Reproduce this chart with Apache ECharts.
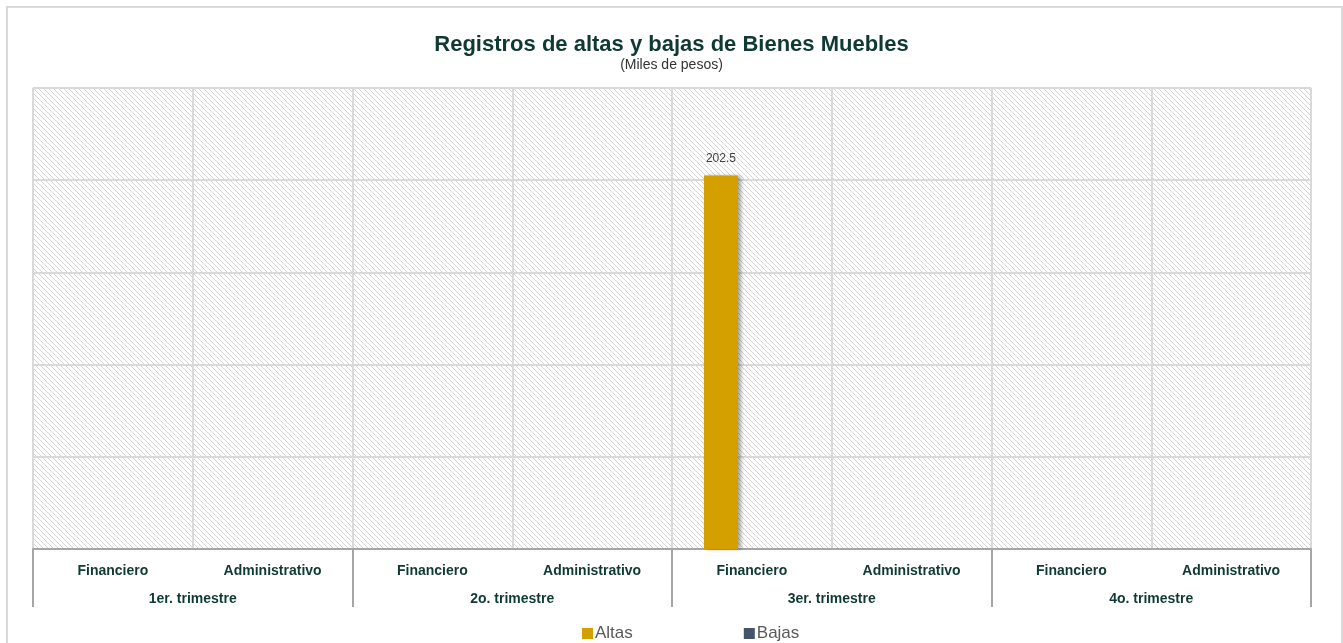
<!DOCTYPE html>
<html>
<head>
<meta charset="utf-8">
<script src="https://cdn.jsdelivr.net/npm/echarts@6/dist/echarts.min.js"></script>
<style>
  html, body { margin: 0; padding: 0; background: #fff; }
  #chart { width: 1343px; height: 643px; }
</style>
</head>
<body>
<div id="chart"></div>
<script>
var categories = ['Financiero', 'Administrativo', 'Financiero', 'Administrativo',
                  'Financiero', 'Administrativo', 'Financiero', 'Administrativo'];
var groups = ['1er. trimestre', '2o. trimestre', '3er. trimestre', '4o. trimestre'];
var altas = [0, 0, 0, 0, 202.5, 0, 0, 0];
var bajas = [0, 0, 0, 0, 0, 0, 0, 0];

var TEXT_DARK = '#0f3a33';
var GRID_LINE = '#d9d9d9';

// diagonal hatch for the plot area
function hatch() {
    var n = 5;
    var c = document.createElement('canvas');
    c.width = n;
    c.height = n;
    var ctx = c.getContext('2d');
    ctx.fillStyle = '#ffffff';
    ctx.fillRect(0, 0, n, n);
    ctx.fillStyle = '#d4d4d4';
    for (var i = 0; i < n; i++) {
        ctx.fillRect(i, i, 1, 1);
    }
    return c;
}

var chart = echarts.init(document.getElementById('chart'));
var option = {
    animation: false,
    backgroundColor: '#fff',
    title: {
        text: 'Registros de altas y bajas de Bienes Muebles',
        subtext: '(Miles de pesos)',
        left: 'center',
        top: 29,
        itemGap: 2,
        textStyle: { fontFamily: 'Liberation Sans', fontSize: 22, fontWeight: 'bold', color: TEXT_DARK },
        subtextStyle: { fontFamily: 'Liberation Sans', fontSize: 14, color: '#333' }
    },
    graphic: [{
        type: 'rect',
        shape: { x: 7, y: 7, width: 1335, height: 660 },
        style: { fill: null, stroke: '#d9d9d9', lineWidth: 2 },
        silent: true
    }],
    legend: {
        data: ['Altas', 'Bajas'],
        top: 620,
        left: 577,
        icon: 'rect',
        itemWidth: 11,
        itemHeight: 11,
        itemGap: 111,
        textStyle: { fontFamily: 'Liberation Sans', fontSize: 17, color: '#595959', padding: [0, 0, 0, -3] }
    },
    grid: {
        left: 33, right: 32, top: 88, bottom: 94,
        show: true,
        borderWidth: 0,
        backgroundColor: { image: hatch(), repeat: 'repeat' }
    },
    xAxis: [{
        type: 'category',
        data: categories,
        axisLine: { show: true, lineStyle: { color: '#a6a6a6', width: 2 } },
        axisTick: { show: false },
        splitLine: { show: true, lineStyle: { color: GRID_LINE, width: 2 } },
        axisLabel: {
            interval: 0, margin: 15,
            fontFamily: 'Liberation Sans', fontSize: 14, fontWeight: 'bold', color: TEXT_DARK
        }
    }, {
        type: 'category',
        data: groups,
        position: 'bottom',
        axisLine: { show: false },
        axisTick: { show: true, length: 58, lineStyle: { color: '#a6a6a6', width: 2 } },
        splitLine: { show: false },
        axisLabel: {
            interval: 0, margin: 43,
            fontFamily: 'Liberation Sans', fontSize: 14, fontWeight: 'bold', color: TEXT_DARK
        }
    }],
    yAxis: {
        type: 'value',
        min: 0,
        max: 250,
        interval: 50,
        axisLabel: { show: false },
        axisLine: { show: false },
        axisTick: { show: false },
        splitLine: { show: true, lineStyle: { color: GRID_LINE, width: 2 } }
    },
    series: [{
        name: 'Altas',
        type: 'bar',
        data: altas,
        barWidth: 34,
        barGap: '82%',
        itemStyle: {
            color: '#d4a000',
            shadowColor: 'rgba(0,0,0,0.35)',
            shadowBlur: 4,
            shadowOffsetX: 3
        },
        label: {
            show: true,
            position: 'top',
            distance: 11,
            fontFamily: 'Liberation Sans',
            fontSize: 12,
            color: '#404040',
            formatter: function (p) { return p.value ? p.value.toFixed(1) : ''; }
        }
    }, {
        name: 'Bajas',
        type: 'bar',
        data: bajas,
        barWidth: 34,
        itemStyle: { color: '#44546a' }
    }]
};
chart.setOption(option);
</script>
</body>
</html>
